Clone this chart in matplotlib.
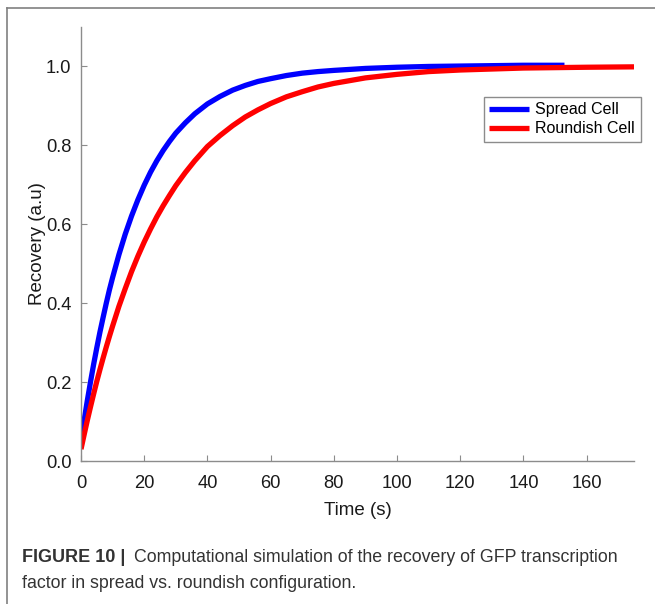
import matplotlib
matplotlib.use("Agg")
import matplotlib.pyplot as plt
from matplotlib.lines import Line2D

plt.rcParams['font.family'] = ['Liberation Sans', 'DejaVu Sans']

# values
spread_t = [0, 1, 2, 3, 4, 5, 6, 7, 8, 9, 10, 12, 14, 16, 18, 20, 22, 24,
            26, 28, 30, 33, 36, 40, 44, 48, 52, 56, 60, 65, 70, 75, 80, 90,
            100, 110, 120, 140, 153]
spread_y = [0.05, 0.103, 0.153, 0.200, 0.245, 0.287, 0.327, 0.364, 0.400,
            0.434, 0.465, 0.523, 0.575, 0.621, 0.662, 0.699, 0.732, 0.761,
            0.787, 0.810, 0.831, 0.857, 0.880, 0.905, 0.924, 0.940, 0.952,
            0.962, 0.969, 0.977, 0.983, 0.987, 0.990, 0.995, 0.998, 1.000,
            1.001, 1.003, 1.003]

round_t = [0, 1, 2, 3, 4, 5, 6, 7, 8, 9, 10, 12, 14, 16, 18, 20, 22, 24,
           26, 28, 30, 33, 36, 40, 44, 48, 52, 56, 60, 65, 70, 75, 80, 90,
           100, 110, 120, 140, 160, 175]
round_y = [0.03, 0.067, 0.103, 0.137, 0.170, 0.202, 0.232, 0.261, 0.289,
           0.316, 0.342, 0.392, 0.437, 0.480, 0.519, 0.555, 0.588, 0.619,
           0.647, 0.673, 0.698, 0.731, 0.761, 0.797, 0.825, 0.850, 0.872,
           0.890, 0.906, 0.923, 0.936, 0.948, 0.957, 0.971, 0.980, 0.987,
           0.991, 0.996, 0.998, 0.999]

xticks = [0, 20, 40, 60, 80, 100, 120, 140, 160]
yticks = [0.0, 0.2, 0.4, 0.6, 0.8, 1.0]

fig = plt.figure(figsize=(6.55, 6.04), dpi=100)
ax = fig.add_axes([81 / 655, 143 / 604, 553 / 655, 434 / 604])

ax.plot(spread_t, spread_y, color='#0000ff', lw=3.8, label='Spread Cell',
        solid_capstyle='butt')
ax.plot(round_t, round_y, color='#ff0000', lw=3.8, label='Roundish Cell',
        solid_capstyle='butt')

ax.set_xlim(0, 175)
ax.set_ylim(0, 1.1)
ax.set_xticks(xticks)
ax.set_yticks(yticks)
ax.set_yticklabels([f"{v:.1f}" for v in yticks])
for s in ['top', 'right']:
    ax.spines[s].set_visible(False)
for s in ['left', 'bottom']:
    ax.spines[s].set_color('#8c8c8c')
    ax.spines[s].set_linewidth(1.0)
ax.tick_params(direction='in', length=4, color='#8c8c8c', labelsize=13.2,
               labelcolor='#1a1a1a')
ax.tick_params(axis='x', pad=10)
ax.tick_params(axis='y', pad=7)
ax.set_xlabel('Time (s)', fontsize=13.5, color='#1a1a1a', labelpad=7)
ax.set_ylabel('Recovery (a.u)', fontsize=13.5, color='#1a1a1a', labelpad=0)

leg = ax.legend(loc='upper right', bbox_to_anchor=(1.012, 0.839),
                fontsize=11.5, handlelength=2.5, handletextpad=0.4,
                borderpad=0.35, labelspacing=0.25, fancybox=False,
                framealpha=1, borderaxespad=0)
leg.get_frame().set_edgecolor('#8c8c8c')
leg.get_frame().set_linewidth(1.0)

# outer frame of the figure panel
fig.add_artist(Line2D([7 / 655, 7 / 655], [0, 1 - 8 / 604],
                      transform=fig.transFigure, color='#808080', lw=1.2))
fig.add_artist(Line2D([7 / 655, 1], [1 - 8 / 604, 1 - 8 / 604],
                      transform=fig.transFigure, color='#808080', lw=1.2))

fig.text(22 / 655, 1 - 558 / 604, 'FIGURE 10 |', fontsize=13,
         fontweight='bold', color='#333333', va='center')
fig.text(134 / 655, 1 - 558 / 604,
         'Computational simulation of the recovery of GFP transcription',
         fontsize=12.8, color='#333333', va='center')
fig.text(22 / 655, 1 - 584 / 604,
         'factor in spread vs. roundish configuration.',
         fontsize=12.8, color='#333333', va='center')

fig.savefig('out.png', dpi=100)
